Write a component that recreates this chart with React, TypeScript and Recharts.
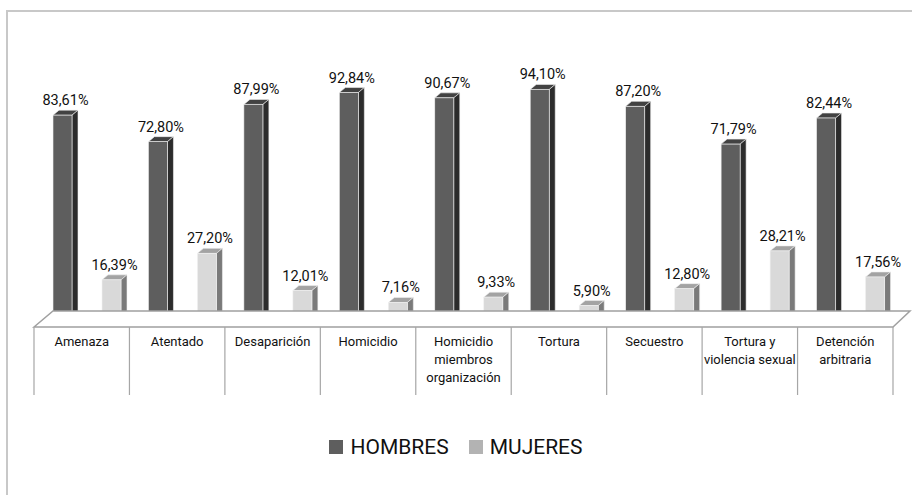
import React from "react"
import { BarChart, Bar, XAxis, YAxis, LabelList, ReferenceLine } from "recharts"

const categories = [
    "Amenaza",
    "Atentado",
    "Desaparición",
    "Homicidio",
    "Homicidio miembros organización",
    "Tortura",
    "Secuestro",
    "Tortura y violencia sexual",
    "Detención arbitraria"
]

const categoryLines = [
    ["Amenaza"],
    ["Atentado"],
    ["Desaparición"],
    ["Homicidio"],
    ["Homicidio", "miembros", "organización"],
    ["Tortura"],
    ["Secuestro"],
    ["Tortura y", "violencia sexual"],
    ["Detención", "arbitraria"]
]

const hombres = [83.61, 72.8, 87.99, 92.84, 90.67, 94.1, 87.2, 71.79, 82.44]
const mujeres = [16.39, 27.2, 12.01, 7.16, 9.33, 5.9, 12.8, 28.21, 17.56]

const seriesNames = ["HOMBRES", "MUJERES"]

const data = categories.map((c, i) => ({
    name: c,
    HOMBRES: hombres[i],
    MUJERES: mujeres[i]
}))

const FONT = "Roboto, 'Liberation Sans Narrow', sans-serif"

// 3d look: bars sit a bit back on the floor
const SHIFT_X = 5
const SHIFT_Y = -7
const DEPTH_X = 6
const DEPTH_Y = 5

const palette = {
    HOMBRES: { front: "#5e5e5e", top: "#424242", side: "#2c2c2c", legend: "#5e5e5e" },
    MUJERES: { front: "#d9d9d9", top: "#a3a3a3", side: "#7a7a7a", legend: "#b3b3b3" }
}

const makeShape = (key: "HOMBRES" | "MUJERES") => (props: any) => {
    const { x, y, width, height } = props
    const c = palette[key]
    const fx = x + SHIFT_X
    const fy = y + SHIFT_Y
    return (
        <g>
            <polygon
                points={`${fx},${fy} ${fx + DEPTH_X},${fy - DEPTH_Y} ${fx + width + DEPTH_X},${fy - DEPTH_Y} ${fx + width},${fy}`}
                fill={c.top}
                stroke="#f0f0f0"
                strokeWidth={0.6}
            />
            <polygon
                points={`${fx + width},${fy} ${fx + width + DEPTH_X},${fy - DEPTH_Y} ${fx + width + DEPTH_X},${fy + height - DEPTH_Y} ${fx + width},${fy + height}`}
                fill={c.side}
                stroke="#f0f0f0"
                strokeWidth={0.6}
            />
            <rect x={fx} y={fy} width={width} height={height} fill={c.front} stroke="#f0f0f0" strokeWidth={0.6} />
        </g>
    )
}

const ValueLabel = (props: any) => {
    const { x, y, width, value } = props
    return (
        <text
            x={x + SHIFT_X + (width + DEPTH_X) / 2}
            y={y + SHIFT_Y - DEPTH_Y - 5}
            textAnchor="middle"
            fontFamily={FONT}
            fontSize={14.5}
            fill="#111"
        >
            {Number(value).toFixed(2).replace(".", ",") + "%"}
        </text>
    )
}

const CategoryTick = (props: any) => {
    const { x, y, payload, index } = props
    const half = payload.offset || 47.7
    const lines = categoryLines[index] || [payload.value]
    return (
        <g>
            <line x1={x - half} y1={y} x2={x - half} y2={y + 68} stroke="#a6a6a6" strokeWidth={1.2} />
            {index === categories.length - 1 && (
                <line x1={x + half} y1={y} x2={x + half} y2={y + 68} stroke="#a6a6a6" strokeWidth={1.2} />
            )}
            {lines.map((l: string, i: number) => (
                <text
                    key={i}
                    x={x}
                    y={y + 19 + i * 18}
                    textAnchor="middle"
                    fontFamily={FONT}
                    fontSize={13}
                    fill="#111"
                >
                    {l}
                </text>
            ))}
        </g>
    )
}

const Floor = (props: any) => {
    const { x1, x2, y1 } = props
    const b = y1 - 16
    return (
        <polygon
            points={`${x1},${y1} ${x1 + 19},${b} ${x2 + 17},${b} ${x2},${y1}`}
            fill="#ffffff"
            stroke="#a0a0a0"
            strokeWidth={1.5}
        />
    )
}

export default function App() {
    return (
        <div style={{ position: "absolute", left: 0, top: 0, width: 912, height: 495, background: "#fff", overflow: "hidden" }}>
            <div style={{ position: "absolute", left: 0, top: 0 }}>
                <BarChart
                    width={912}
                    height={495}
                    data={data}
                    margin={{ top: 82, left: 34, right: 19, bottom: 98 }}
                    barSize={19}
                    barGap={30}
                >
                    <XAxis
                        dataKey="name"
                        axisLine={false}
                        tickLine={false}
                        tickSize={0}
                        tickMargin={0}
                        height={70}
                        tick={<CategoryTick />}
                        interval={0}
                    />
                    <YAxis hide domain={[0, 100]} />
                    <ReferenceLine y={0} shape={<Floor />} ifOverflow="visible" />
                    <Bar dataKey="HOMBRES" isAnimationActive={false} shape={makeShape("HOMBRES")}>
                        <LabelList dataKey="HOMBRES" content={<ValueLabel />} />
                    </Bar>
                    <Bar dataKey="MUJERES" isAnimationActive={false} shape={makeShape("MUJERES")}>
                        <LabelList dataKey="MUJERES" content={<ValueLabel />} />
                    </Bar>
                </BarChart>
            </div>
            <div
                style={{
                    position: "absolute",
                    left: 0,
                    width: 912,
                    top: 435,
                    display: "flex",
                    justifyContent: "center",
                    alignItems: "center",
                    fontFamily: FONT,
                    fontSize: 21,
                    color: "#111"
                }}
            >
                {seriesNames.map((s, i) => (
                    <div key={s} style={{ display: "flex", alignItems: "center", marginLeft: i ? 20 : 0 }}>
                        <span
                            style={{
                                display: "inline-block",
                                width: 14,
                                height: 14,
                                background: palette[s as "HOMBRES" | "MUJERES"].legend,
                                marginRight: 7
                            }}
                        />
                        <span>{s}</span>
                    </div>
                ))}
            </div>
            <div
                style={{
                    position: "absolute",
                    left: 6,
                    top: 10,
                    width: 920,
                    height: 500,
                    borderTop: "2px solid #c8c8c8",
                    borderLeft: "2px solid #c8c8c8",
                    zIndex: 2,
                    pointerEvents: "none"
                }}
            />
        </div>
    )
}
